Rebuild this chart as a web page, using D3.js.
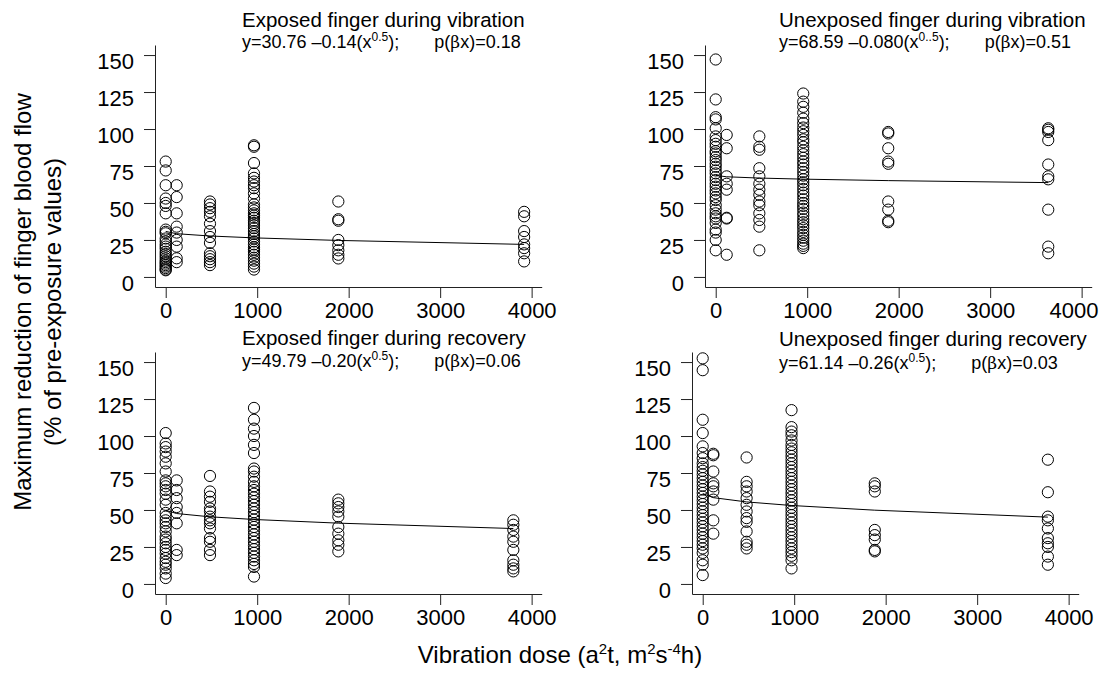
<!DOCTYPE html>
<html>
<head>
<meta charset="utf-8">
<script src="https://cdn.jsdelivr.net/npm/d3@7"></script>
<style>
  body { margin: 0; background: #fff; }
  svg { display: block; }
  text { font-family: Arial, "Liberation Sans", sans-serif; fill: #000; }
</style>
</head>
<body>
<svg id="chart" width="1099" height="692"></svg>
<script>
// ---- Dose groups (a²t, m²s⁻⁴h) for each panel ----
const dosesExpVib   = [0, 120, 484, 965, 1887, 3918];
const dosesUnexpVib = [0, 120, 477, 957, 1886, 3635];
const dosesExpRec   = [0, 120, 484, 965, 1887, 3800];
const dosesUnexpRec = [0, 116, 480, 971, 1881, 3773];

// ---- Maximum reduction of blood flow (%), one list per dose group ----
const valuesExpVib = [
  [78, 72, 62, 53, 50, 48, 43, 32, 30.5, 29.5, 26, 24, 22, 20.5, 19, 17, 15.5, 14, 12.5, 11, 10, 9, 8, 7, 6, 5, 4.5],
  [62, 54, 43, 34, 30, 25, 20.5, 12.6, 10],
  [51, 49, 46.5, 44, 41, 36, 31, 27, 23, 16, 14, 12, 10, 8],
  [89, 88, 77, 70, 67, 64.5, 62, 60, 56.5, 53, 49, 47, 45, 43, 41.5, 40, 38, 36.5, 35, 33, 31, 29, 27.5, 26, 24, 22, 20, 18.5, 17, 15, 13, 11, 9, 7, 5],
  [51, 39, 38, 25, 21.5, 18, 15, 12.5],
  [44, 41, 31, 27, 22, 19.5, 16, 10.5]
];
const valuesUnexpVib = [
  [147, 120, 108, 106.5, 100.5, 95, 92.5, 90, 88, 85, 83.5, 81, 79, 76.5, 74.5, 72, 70, 67.5, 65.5, 63, 61, 58.5, 56.5, 54, 52, 48.5, 45.5, 43, 41, 39.5, 36.5, 32, 30, 25, 18],
  [96, 87, 68, 63, 59, 40, 39.5, 15],
  [95, 88, 86, 73.5, 68, 63, 59, 55.5, 51, 48.5, 43, 38.5, 34, 18],
  [124, 118.5, 115, 111, 107, 104, 101, 98.5, 96, 93, 91, 88, 85.5, 83, 80.5, 78, 76, 73.5, 71, 68.5, 66, 64, 62, 59.5, 57, 55, 52.5, 50, 48, 46, 43.5, 41.5, 39, 37, 35, 33, 30.5, 28.5, 26.5, 24.5, 22.5, 21, 19.5],
  [98, 97, 87, 78, 76.5, 51, 45.5, 38, 37],
  [100.5, 99.5, 98, 92.5, 76, 68, 66, 45.5, 20.5, 16]
];
const valuesExpRec = [
  [102, 95, 92.5, 89.5, 86, 81.5, 76, 70, 68, 66, 63.5, 61, 57, 53.5, 48, 45.5, 43, 41, 38.5, 35.5, 32, 30, 27.5, 25, 23, 20.5, 17.5, 15, 13, 10.5, 7, 4],
  [70, 63.5, 58, 52, 48, 41, 23, 19.5],
  [73, 62.5, 59, 55.5, 51, 49, 45.5, 43, 41, 37.5, 31, 28.5, 23, 19.5],
  [119, 111, 105, 100, 94, 88.5, 78, 76, 72.5, 69, 66, 63.5, 61, 58.5, 56, 53.5, 51, 48.5, 46, 43.5, 41, 38.5, 36, 33.5, 31, 28.5, 26, 23.5, 21, 18.5, 16, 13.5, 11.5, 5],
  [57, 54.5, 52, 49, 45.5, 38.5, 34, 29.5, 26.5, 22],
  [43, 40, 36.5, 32, 28.5, 23, 16, 13, 10.5, 8.5]
];
const valuesUnexpRec = [
  [152.5, 144.5, 111, 102, 93, 88.5, 85, 81.5, 79, 76.5, 74, 71.5, 69, 66.5, 64, 61.5, 59, 56.5, 54, 51.5, 49, 46.5, 44, 41.5, 39, 36.5, 34, 31.5, 29, 26.5, 24, 21, 16, 13, 6],
  [88, 87, 76, 68, 66, 62.5, 57, 43, 34],
  [85.5, 69, 66, 62.5, 58, 53.5, 49, 44.5, 42, 35.5, 28.5, 26.5, 24],
  [117.5, 106, 103, 100.5, 97, 94, 91.5, 89, 86.5, 84, 81.5, 79, 76.5, 74, 71.5, 69, 66.5, 64, 61.5, 59, 56.5, 54, 51.5, 49, 46.5, 44, 41.5, 39, 36.5, 34, 31.5, 29, 26.5, 24, 21.5, 19, 16, 10.5],
  [68, 66, 62.5, 36.5, 33, 30, 23, 22],
  [84, 62, 45.5, 43, 37.5, 31, 27.5, 25, 18.5, 13]
];

// ---- Regression fits y = a - b·x^0.5 ----
const panelTitles = [
  "Exposed finger during vibration",
  "Unexposed finger during vibration",
  "Exposed finger during recovery",
  "Unexposed finger during recovery"
];
const intercepts   = [30.76, 68.59, 49.79, 61.14];
const slopes       = [0.14, 0.080, 0.20, 0.26];
const slopeLabels  = ["0.14", "0.080", "0.20", "0.26"];
const exponentText = ["0.5", "0..5", "0.5", "0.5"];
const pValues      = ["0.18", "0.51", "0.06", "0.03"];

// ---- Axis ticks ----
const xTicks = [0, 1000, 2000, 3000, 4000];
const yTicks = [0, 25, 50, 75, 100, 125, 150];

const allDoses  = [dosesExpVib, dosesUnexpVib, dosesExpRec, dosesUnexpRec];
const allValues = [valuesExpVib, valuesUnexpVib, valuesExpRec, valuesUnexpRec];

// ---- Panel geometry ----
const layout = [
  { x0: 155, x1: 541.7,  yb: 287, yt: 45,  tx: 242, ty: 27,  ey: 48 },
  { x0: 705, x1: 1091.7, yb: 287, yt: 45,  tx: 779, ty: 27,  ey: 48 },
  { x0: 155, x1: 541.7,  yb: 594, yt: 352, tx: 242, ty: 345, ey: 367 },
  { x0: 692, x1: 1078.7, yb: 594, yt: 352, tx: 779, ty: 346, ey: 369 }
];

const width = 1099;
const svg = d3.select("#chart");
const axisColor = "#222";

panelTitles.forEach((title, i) => {
  const L = layout[i];
  const doses = allDoses[i];
  const values = allValues[i];

  const x = d3.scaleLinear().domain([-117, 4110]).range([L.x0, L.x1]);
  const y = d3.scaleLinear().domain([-6.8, 156.8]).range([L.yb, L.yt]);

  const g = svg.append("g");

  // y axis
  const gy = g.append("g")
    .attr("transform", `translate(${L.x0},0)`)
    .call(d3.axisLeft(y).tickValues(yTicks).tickSize(11).tickSizeOuter(0).tickPadding(10));
  gy.selectAll("path, line").attr("stroke", axisColor).attr("stroke-width", 1);
  gy.selectAll("text").attr("font-size", 22).attr("dy", "0.6em")
    .style("font-family", "Arial, 'Liberation Sans', sans-serif").attr("fill", "#000");

  // x axis
  const gx = g.append("g")
    .attr("transform", `translate(0,${L.yb})`)
    .call(d3.axisBottom(x).tickValues(xTicks).tickFormat(d3.format("d")).tickSize(11).tickSizeOuter(0).tickPadding(4));
  gx.selectAll("path, line").attr("stroke", axisColor).attr("stroke-width", 1);
  gx.selectAll("text").attr("font-size", 22)
    .style("font-family", "Arial, 'Liberation Sans', sans-serif").attr("fill", "#000");
  // keep the outermost tick label inside the figure
  gx.selectAll("text").each(function (d) {
    const bb = this.getBBox();
    const right = x(d) + bb.x + bb.width;
    if (right > width - 1) d3.select(this).attr("dx", (width - 1 - right).toFixed(1));
  });

  // points
  const pts = [];
  doses.forEach((d, j) => values[j].forEach(v => pts.push({ d, v })));
  g.append("g").selectAll("circle").data(pts).join("circle")
    .attr("cx", p => x(p.d))
    .attr("cy", p => y(p.v))
    .attr("r", 5.6)
    .attr("fill", "none")
    .attr("stroke", "#000")
    .attr("stroke-width", 1);

  // fitted line through the dose groups
  const fit = doses.map(d => ({ d, v: intercepts[i] - slopes[i] * Math.sqrt(d) }));
  g.append("path")
    .datum(fit)
    .attr("fill", "none")
    .attr("stroke", "#000")
    .attr("stroke-width", 1)
    .attr("d", d3.line().x(p => x(p.d)).y(p => y(p.v)));

  // title
  g.append("text")
    .attr("x", L.tx).attr("y", L.ty)
    .attr("font-size", 20.5)
    .text(title);

  // equation line
  const eq = g.append("text")
    .attr("x", L.tx).attr("y", L.ey)
    .attr("font-size", 18);
  eq.append("tspan").text(`y=${intercepts[i].toFixed(2)} \u2013${slopeLabels[i]}(x`);
  eq.append("tspan").attr("dy", -7).attr("font-size", 12).text(exponentText[i]);
  eq.append("tspan").attr("dy", 7).text(");");
  eq.append("tspan").attr("dx", 35).text("p(");
  eq.append("tspan").style("font-family", "'DejaVu Serif', serif").attr("font-size", 17).text("\u03B2");
  eq.append("tspan").text(`x)=${pValues[i]}`);
});

// y-axis title (two lines)
const yTitle = svg.append("g").attr("transform", "translate(0,302) rotate(-90)");
yTitle.append("text").attr("x", 0).attr("y", 31).attr("text-anchor", "middle")
  .attr("font-size", 24).text("Maximum reduction of finger blood flow");
yTitle.append("text").attr("x", 0).attr("y", 61).attr("text-anchor", "middle")
  .attr("font-size", 24).text("(% of pre-exposure values)");

// x-axis title with superscripts
const xt = svg.append("text").attr("x", 560).attr("y", 663)
  .attr("text-anchor", "middle").attr("font-size", 24);
xt.append("tspan").text("Vibration dose (a");
xt.append("tspan").attr("dy", -9).attr("font-size", 15).text("2");
xt.append("tspan").attr("dy", 9).text("t, m");
xt.append("tspan").attr("dy", -9).attr("font-size", 15).text("2");
xt.append("tspan").attr("dy", 9).text("s");
xt.append("tspan").attr("dy", -9).attr("font-size", 15).text("-4");
xt.append("tspan").attr("dy", 9).text("h)");
</script>
</body>
</html>
